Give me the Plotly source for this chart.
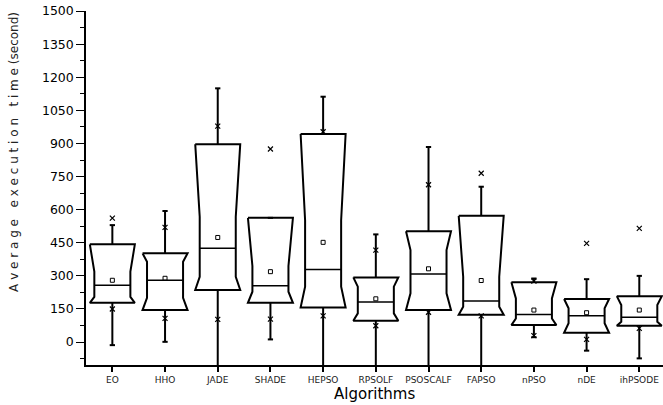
import plotly.graph_objects as go

algorithms = ["EO", "HHO", "JADE", "SHADE", "HEPSO", "RPSOLF", "PSOSCALF", "FAPSO", "nPSO", "nDE", "ihPSODE"]
q1 = [178, 145, 236, 178, 157, 97, 145, 124, 77, 42, 74]
notch_lo = [205, 200, 296, 228, 251, 130, 221, 160, 107, 85, 92]
median = [258, 280, 425, 255, 329, 181, 308, 186, 125, 119, 112]
notch_hi = [319, 364, 568, 345, 552, 251, 417, 296, 198, 153, 168]
q3 = [443, 402, 897, 563, 943, 293, 502, 572, 271, 195, 208]
whisker_lo = [-14, 1, -130, 12, -130, -130, -130, -130, 22, -39, -74]
whisker_hi = [530, 594, 1150, 563, 1112, 488, 884, 704, 288, 285, 300]
mean = [280, 289, 474, 319, 452, 196, 332, 279, 145, 133, 145]
pct_lo = [150, 107, 103, 104, 119, 74, 135, 119, 29, 12, 62]
pct_hi = [562, 520, 979, 875, 953, 417, 713, 765, 276, 447, 515]

HW = 0.427   # half box width (category units)
NW = 0.342   # half notch width
CW = 0.05    # half cap width

FONT = "DejaVu Sans"
fig = go.Figure()

# whiskers + caps
wx, wy = [], []
for i in range(len(algorithms)):
    wx += [i, i, None, i, i, None, i - CW, i + CW, None, i - CW, i + CW, None]
    wy += [q3[i], whisker_hi[i], None, q1[i], whisker_lo[i], None,
           whisker_hi[i], whisker_hi[i], None, whisker_lo[i], whisker_lo[i], None]
fig.add_trace(go.Scatter(x=wx, y=wy, mode="lines", line=dict(color="black", width=2),
                         hoverinfo="skip", showlegend=False))

# notched boxes
bx, by = [], []
for i in range(len(algorithms)):
    bx += [i - HW, i + HW, i + NW, i + NW, i + HW, i - HW, i - NW, i - NW, i - HW, None]
    by += [q3[i], q3[i], notch_hi[i], notch_lo[i], q1[i], q1[i], notch_lo[i], notch_hi[i], q3[i], None]
fig.add_trace(go.Scatter(x=bx, y=by, mode="lines", line=dict(color="black", width=2),
                         hoverinfo="skip", showlegend=False))

# median lines
mx, my = [], []
for i in range(len(algorithms)):
    mx += [i - NW, i + NW, None]
    my += [median[i], median[i], None]
fig.add_trace(go.Scatter(x=mx, y=my, mode="lines", line=dict(color="black", width=1.5),
                         hoverinfo="skip", showlegend=False))

# means
fig.add_trace(go.Scatter(x=list(range(len(algorithms))), y=mean, mode="markers",
                         marker=dict(symbol="square-open", size=4, color="black", line=dict(width=1)),
                         showlegend=False))
# percentile crosses
fig.add_trace(go.Scatter(x=list(range(len(algorithms))) * 2, y=pct_lo + pct_hi, mode="markers",
                         marker=dict(symbol="x-thin", size=5, color="black", line=dict(width=1.2, color="black")),
                         showlegend=False))

fig.update_layout(
    width=663, height=405,
    margin=dict(l=86, r=0, t=11, b=40),
    paper_bgcolor="white", plot_bgcolor="white",
    font=dict(family=FONT, color="black"),
    xaxis=dict(
        range=[-0.5, 10.45], tickmode="array", tickvals=list(range(len(algorithms))),
        ticktext=algorithms, tickfont=dict(size=9, family=FONT, color="#222"),
        showline=True, linecolor="black", linewidth=1.5, ticks="outside", ticklen=5,
        tickwidth=1.5, tickcolor="black", showgrid=False, zeroline=False, automargin=False,
    ),
    yaxis=dict(
        range=[-104, 1500.5], tick0=0, dtick=150, tickfont=dict(size=12.5, family=FONT),
        showline=True, linecolor="black", linewidth=1.5, ticks="outside", ticklen=8,
        tickwidth=1.2, tickcolor="black", showgrid=False, zeroline=False, automargin=False,
        minor=dict(ticks="outside", ticklen=4, dtick=75, tick0=0, tickcolor="black", tickwidth=1.2),
    ),
    annotations=[
        dict(text="A v e r a g e\u00a0\u00a0 e x e c u t i o n\u00a0\u00a0 t i m e (second)",
             xref="paper", yref="paper", x=-0.1248, y=0.602, xanchor="center", yanchor="middle",
             textangle=-90, showarrow=False, font=dict(size=12, family=FONT, color="#222")),
        dict(text="Algorithms", xref="paper", yref="paper", x=0.5, y=-0.083,
             xanchor="center", yanchor="middle", showarrow=False,
             font=dict(size=15, family=FONT, color="black")),
    ],
)

fig.write_html("out.html", config={"displayModeBar": False},
               post_script="document.body.style.margin='0';")
